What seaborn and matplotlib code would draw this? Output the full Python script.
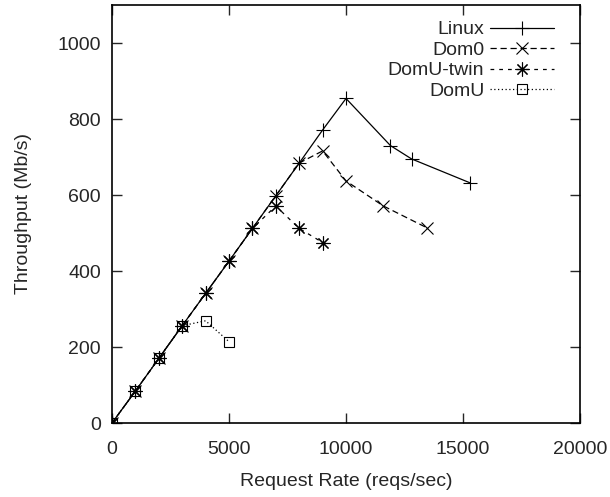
import matplotlib
matplotlib.use("Agg")
import matplotlib.pyplot as plt
import seaborn as sns
import pandas as pd

linux_x = [0, 1000, 2000, 3000, 4000, 5000, 6000, 7000, 8000, 9000, 10000, 11900, 12800, 15300]
linux_y = [0, 84, 170, 256, 341, 426, 512, 598, 684, 771, 854, 730, 695, 632]
dom0_x = [0, 1000, 2000, 3000, 4000, 5000, 6000, 7000, 8000, 9000, 10000, 11600, 13450]
dom0_y = [0, 84, 170, 256, 341, 426, 512, 598, 684, 716, 637, 571, 514]
twin_x = [0, 1000, 2000, 3000, 4000, 5000, 6000, 7000, 8000, 9000]
twin_y = [0, 84, 170, 256, 341, 426, 512, 571, 512, 475]
domu_x = [0, 1000, 2000, 3000, 4000, 5000]
domu_y = [0, 84, 170, 256, 269, 214]

sns.set_style("ticks")
plt.rcParams['font.family'] = ['Liberation Sans', 'DejaVu Sans']
plt.rcParams['font.size'] = 14

fig = plt.figure(figsize=(6.1, 4.97), dpi=100)
ax = fig.add_axes([112/610, 74/497, 468/610, 418/497])

series = [
    ("Linux", linux_x, linux_y, dict(marker='+', linestyle='-', markersize=10)),
    ("Dom0", dom0_x, dom0_y, dict(marker='x', linestyle=(0, (5, 3)), markersize=8)),
    ("DomU-twin", twin_x, twin_y, dict(marker=(8, 2, 0), linestyle=(0, (3, 4)), markersize=10)),
    ("DomU", domu_x, domu_y, dict(marker='s', linestyle=(0, (1, 2)), markersize=7.5, mfc='none')),
]
for name, xs, ys, kw in series:
    df = pd.DataFrame({"x": xs, "y": ys})
    sns.lineplot(data=df, x="x", y="y", ax=ax, color='black', linewidth=0.9,
                 mew=0.8, mec='black', sort=False, estimator=None, label=name, **kw)

ax.set_xlim(0, 20000)
ax.set_ylim(0, 1100)
ax.set_xticks([0, 5000, 10000, 15000, 20000])
ax.set_yticks([0, 200, 400, 600, 800, 1000])
ax.tick_params(direction='in', length=7, width=1, top=True, right=True, labelsize=14)
ax.tick_params(axis='x', pad=13)
ax.tick_params(axis='y', pad=8)
for s in ax.spines.values():
    s.set_linewidth(1.2)
    s.set_color('black')
ax.set_xlabel("Request Rate (reqs/sec)", fontsize=14, labelpad=11)
ax.set_ylabel("Throughput (Mb/s)", fontsize=14, labelpad=18)

leg = ax.legend(loc='upper right', bbox_to_anchor=(0.974, 0.995), markerfirst=False,
                frameon=False, fontsize=14, handlelength=3.3, labelspacing=0.15,
                borderaxespad=0.3, handletextpad=0.3)
fig.savefig("out.png", dpi=100)
